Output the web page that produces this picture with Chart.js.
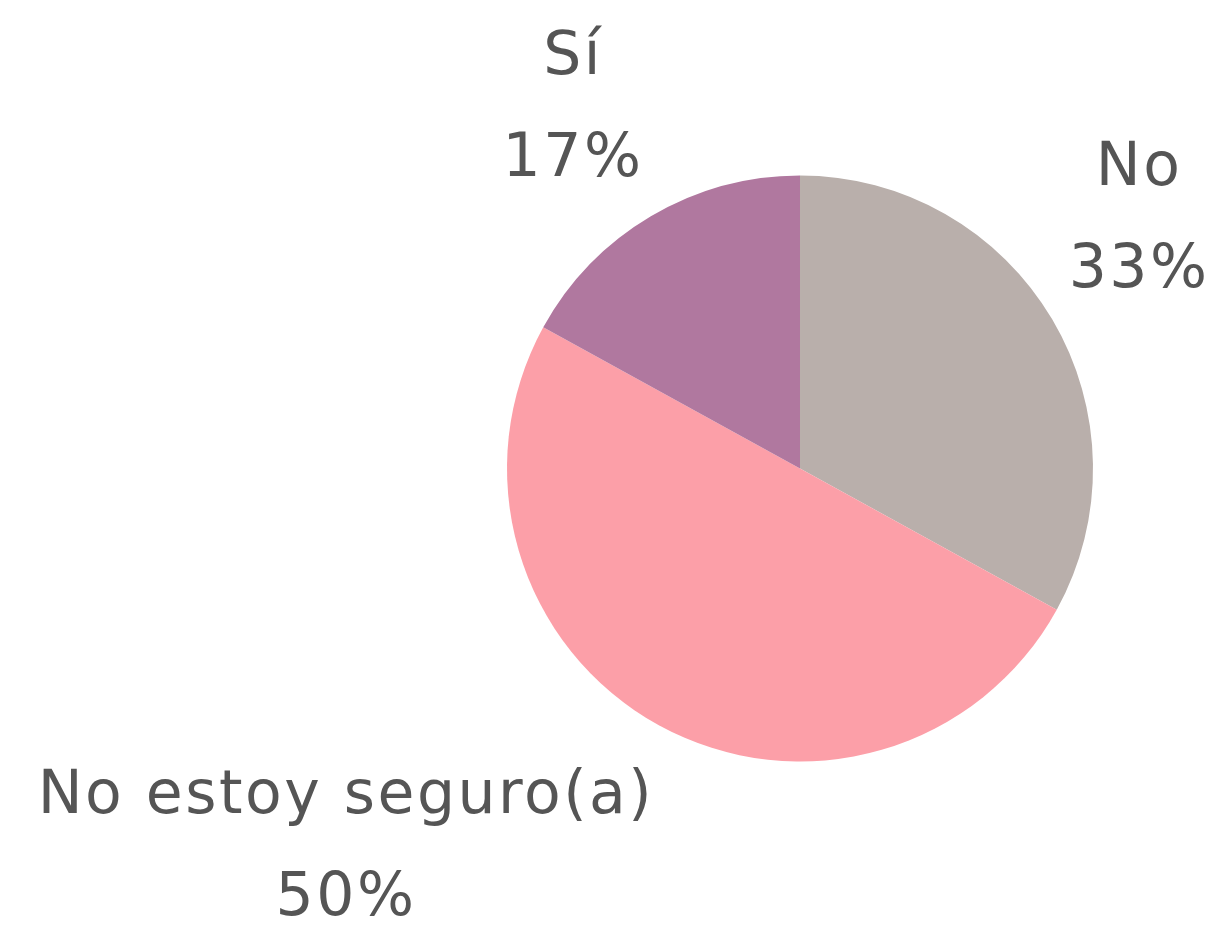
<!DOCTYPE html>
<html>
<head>
<meta charset="utf-8">
<script src="https://cdn.jsdelivr.net/npm/chart.js@4/dist/chart.umd.min.js"></script>
<style>
  html, body { margin: 0; padding: 0; background: #fff; }
  #wrap { width: 1215px; height: 926px; }
</style>
</head>
<body>
<div id="wrap"><canvas id="pieChart" width="1215" height="926"></canvas></div>
<script>
const categories = ['No', 'No estoy seguro(a)', 'Sí'];
const shares = [33, 50, 17];
const colors = ['#B9AFAB', '#FC9FA8', '#B0789F'];
// label anchor relative to pie centre, in radius units (x centre, baseline of first line)
const labelOffsets = [[1.154, -0.966], [-1.553, 1.176], [-0.778, -1.345]];

const sliceLabels = {
  id: 'sliceLabels',
  afterDraw(chart) {
    const ctx = chart.ctx;
    const arcs = chart.getDatasetMeta(0).data;
    ctx.save();
    ctx.font = '60px "DejaVu Sans"';
    ctx.letterSpacing = '2.5px';
    ctx.fillStyle = '#555555';
    ctx.textAlign = 'center';
    ctx.textBaseline = 'alphabetic';
    arcs.forEach((arc, i) => {
      const r = arc.outerRadius;
      const x = arc.x + labelOffsets[i][0] * r + 1;
      const y = arc.y + labelOffsets[i][1] * r;
      ctx.fillText(categories[i], x, y);
      ctx.fillText(shares[i] + '%', x, y + 102);
    });
    ctx.restore();
  }
};

const ctx = document.getElementById('pieChart').getContext('2d');
const pieChart = new Chart(ctx, {
  type: 'pie',
  data: {
    labels: categories,
    datasets: [{
      data: shares,
      backgroundColor: colors,
      borderWidth: 0
    }]
  },
  options: {
    responsive: false,
    animation: false,
    layout: { padding: { left: 507, right: 122, top: 175, bottom: 164 } },
    plugins: {
      legend: { display: false },
      tooltip: { enabled: false }
    }
  },
  plugins: [sliceLabels]
});
</script>
</body>
</html>
